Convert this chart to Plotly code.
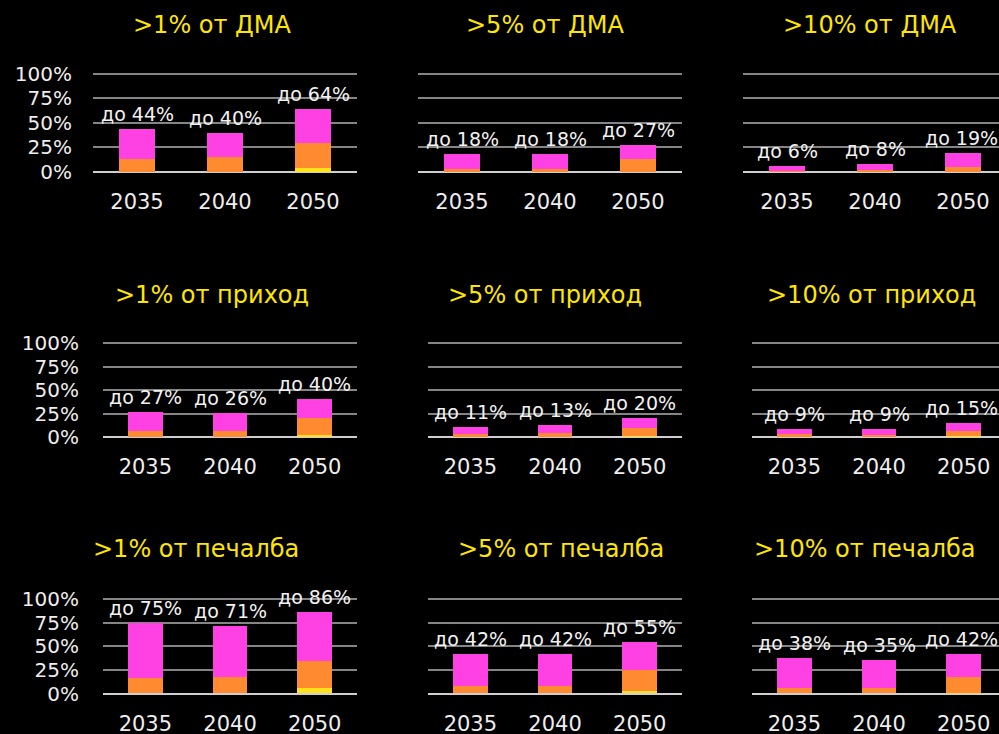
import plotly.graph_objects as go

years = ["2035", "2040", "2050"]
tick_vals = [0, 25, 50, 75, 100]
tick_text = ["0%", "25%", "50%", "75%", "100%"]

titles = [
    ">1% от ДМА", ">5% от ДМА", ">10% от ДМА",
    ">1% от приход", ">5% от приход", ">10% от приход",
    ">1% от печалба", ">5% от печалба", ">10% от печалба",
]

# stacked segments per panel: yellow (bottom), orange (middle), magenta (top)
yellow_dma1 = [0, 0, 4];   orange_dma1 = [13, 15, 25]; magenta_dma1 = [31, 25, 35]
yellow_dma5 = [0, 0, 0];   orange_dma5 = [3, 3, 13];   magenta_dma5 = [15, 15, 14]
yellow_dma10 = [0, 0, 0];  orange_dma10 = [1, 2, 5];   magenta_dma10 = [5, 6, 14]
yellow_inc1 = [0, 0, 2];   orange_inc1 = [6, 6, 18];   magenta_inc1 = [21, 20, 20]
yellow_inc5 = [0, 0, 1];   orange_inc5 = [3, 4, 9];    magenta_inc5 = [8, 9, 10]
yellow_inc10 = [0, 0, 1];  orange_inc10 = [3, 2, 5];   magenta_inc10 = [6, 7, 9]
yellow_prof1 = [0, 0, 6];  orange_prof1 = [16, 17, 28]; magenta_prof1 = [59, 54, 52]
yellow_prof5 = [0, 0, 3];  orange_prof5 = [8, 8, 22];  magenta_prof5 = [34, 34, 30]
yellow_prof10 = [0, 0, 1]; orange_prof10 = [6, 6, 16]; magenta_prof10 = [32, 29, 25]

labels_dma1 = [44, 40, 64]
labels_dma5 = [18, 18, 27]
labels_dma10 = [6, 8, 19]
labels_inc1 = [27, 26, 40]
labels_inc5 = [11, 13, 20]
labels_inc10 = [9, 9, 15]
labels_prof1 = [75, 71, 86]
labels_prof5 = [42, 42, 55]
labels_prof10 = [38, 35, 42]

panels = [
    (yellow_dma1, orange_dma1, magenta_dma1, labels_dma1),
    (yellow_dma5, orange_dma5, magenta_dma5, labels_dma5),
    (yellow_dma10, orange_dma10, magenta_dma10, labels_dma10),
    (yellow_inc1, orange_inc1, magenta_inc1, labels_inc1),
    (yellow_inc5, orange_inc5, magenta_inc5, labels_inc5),
    (yellow_inc10, orange_inc10, magenta_inc10, labels_inc10),
    (yellow_prof1, orange_prof1, magenta_prof1, labels_prof1),
    (yellow_prof5, orange_prof5, magenta_prof5, labels_prof5),
    (yellow_prof10, orange_prof10, magenta_prof10, labels_prof10),
]

W, H = 999, 734
YMAX = 102
# pixel geometry of panels: (x_left, x_right, y_top(100%), y_bottom(0%), category spacing)
geom = [
    (93, 357, 73.5, 172, 88), (418, 682, 73.5, 172, 88), (743, 999, 73.5, 172, 88),
    (103, 357, 343, 437, 84.7), (428, 682, 343, 437, 84.7), (752, 999, 343, 437, 84.7),
    (103, 357, 599, 693.5, 84.7), (428, 682, 599, 693.5, 84.7), (752, 999, 599, 693.5, 84.7),
]
title_pos = [
    (212, 25), (545, 25), (870, 25),
    (212, 295), (545, 295), (871, 295),
    (196, 549), (561, 549), (865, 549),
]

C_Y = "#FFE21A"
C_O = "#FF8A30"
C_M = "#FF40E2"
FONT = "DejaVu Sans"

fig = go.Figure()
layout = dict(
    width=W, height=H, margin=dict(l=0, r=0, t=0, b=0, autoexpand=False),
    paper_bgcolor="black", plot_bgcolor="black",
    barmode="stack", showlegend=False,
    font=dict(family=FONT, color="#EEEEEE"),
)
annotations = []

for i, (yv, ov, mv, lab) in enumerate(panels):
    n = "" if i == 0 else str(i + 1)
    xl, xr, yt, yb, sp = geom[i]
    for vals, col in ((yv, C_Y), (ov, C_O), (mv, C_M)):
        fig.add_trace(go.Bar(
            x=years, y=vals, xaxis="x" + n, yaxis="y" + n,
            marker=dict(color=col, line=dict(width=0)), width=0.41,
            hoverinfo="skip",
        ))
    rng_end = -0.5 + (xr - xl) / sp
    ytop_px = yb - (yb - yt) * YMAX / 100.0
    layout["xaxis" + n] = dict(
        domain=[xl / W, xr / W], anchor="y" + n, type="category",
        range=[-0.5, rng_end], showgrid=False, showline=False, zeroline=False,
        ticks="", tickfont=dict(size=21, color="#EEEEEE", family=FONT),
        ticklabelstandoff=15, fixedrange=True, automargin=False,
    )
    ycfg = dict(
        domain=[1 - yb / H, 1 - ytop_px / H], anchor="x" + n, range=[0, YMAX],
        tickvals=tick_vals, ticktext=tick_text,
        showgrid=True, gridcolor="#858585", gridwidth=2,
        zeroline=True, zerolinecolor="#CFCFCF", zerolinewidth=2,
        showline=False, ticks="", fixedrange=True, automargin=False,
    )
    if i % 3 == 0:
        ycfg.update(showticklabels=True,
                    tickfont=dict(size=20, color="#EEEEEE", family=FONT),
                    ticklabelstandoff=20 if i == 0 else 23)
    else:
        ycfg.update(showticklabels=False)
    layout["yaxis" + n] = ycfg

    for k, yr in enumerate(years):
        total = yv[k] + ov[k] + mv[k]
        edge = (i % 3 == 2 and k == 2)
        annotations.append(dict(
            x=k, y=total, xref="x" + n, yref="y" + n,
            text=f"до {lab[k]}%", showarrow=False, yanchor="bottom",
            xanchor="center", yshift=2, xshift=-2 if edge else 0,
            font=dict(size=19, color="#F2F2F2", family=FONT),
        ))

    tx, ty = title_pos[i]
    annotations.append(dict(
        x=tx / W, y=1 - ty / H, xref="paper", yref="paper",
        text=titles[i], showarrow=False, xanchor="center", yanchor="middle",
        font=dict(size=24, color="#FFE600", family=FONT),
    ))

layout["annotations"] = annotations
fig.update_layout(**layout)
fig.write_html("out.html")
